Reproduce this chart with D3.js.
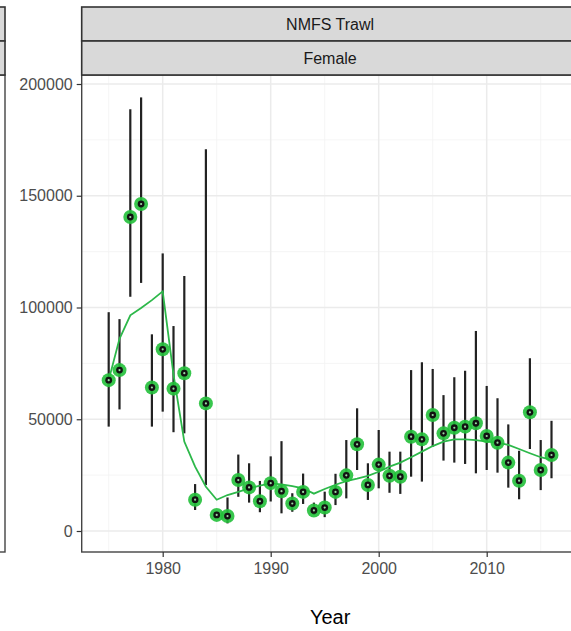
<!DOCTYPE html>
<html>
<head>
<meta charset="utf-8">
<script src="https://cdn.jsdelivr.net/npm/d3@7"></script>
<style>
  body { margin: 0; background: #fff; }
  svg { display: block; font-family: "Liberation Sans", Arial, sans-serif; }
</style>
</head>
<body>
<div id="chart"></div>
<script>
// survey index (female), NMFS trawl
var years = d3.range(1975, 2017);
var obs = [67500, 72000, 140500, 146300, 64200, 81300, 63700, 70600, 14000, 57100,
  7200, 6700, 22800, 19500, 13300, 21400, 17800, 12300, 17500, 9200,
  10500, 17500, 24900, 38800, 20600, 29700, 24700, 24300, 42200, 41000,
  51900, 43700, 46200, 46700, 48200, 42500, 39500, 30600, 22500, 53100,
  27300, 34000];
var lower = [46700, 54400, 104800, 111000, 46700, 53400, 44200, 43700, 9400, 20600,
  5800, 3400, 15300, 12700, 8400, 13200, 7900, 8600, 12100, 7200,
  6200, 11600, 14600, 27300, 13900, 19100, 17100, 16600, 24300, 22100,
  37700, 31500, 30600, 30000, 25800, 27300, 26100, 19400, 14200, 36700,
  18300, 23600];
var upper = [97900, 94800, 188700, 194000, 88000, 124200, 91700, 114100, 21000, 170800,
  8700, 15000, 34200, 30300, 22400, 33400, 40200, 16900, 25700, 12700,
  17600, 25600, 40700, 54900, 30300, 45200, 35500, 35500, 72000, 75500,
  72500, 60800, 68800, 71700, 89500, 64900, 59400, 47700, 35900, 77300,
  40700, 49300];
var fitted = [67500, 86000, 96500, 99800, 103300, 107200, 70000, 40000, 28800, 19800,
  14000, 16100, 17500, 19100, 20300, 21300, 20900, 20100, 19100, 16700,
  18800, 20700, 22300, 23400, 24700, 26500, 28800, 30600, 33000, 35500,
  38000, 40000, 41000, 41000, 40700, 40000, 39500, 38500, 36700, 34800,
  33000, 31800];
var xTicks = [1980, 1990, 2000, 2010];
var yTicks = [0, 50000, 100000, 150000, 200000];
var stripLabels = ["NMFS Trawl", "Female"];

var W = 571, H = 631;
var panel = {left: 81.7, right: 578.5, top: 75, bottom: 552};
var green = "#22C03A";

var svg = d3.select("#chart").append("svg")
    .attr("width", W)
    .attr("height", H);

var x = d3.scaleLinear().domain([1972.5, 2018.5]).range([panel.left, panel.right]);
var y = d3.scaleLinear().domain([0, 200000]).range([531, 84]);

//neighbouring panel cut off on the left
svg.append("rect")
    .attr("x", -100).attr("y", panel.top)
    .attr("width", 105).attr("height", panel.bottom - panel.top)
    .attr("fill", "#fff").attr("stroke", "#444").attr("stroke-width", 1.4);
[7, 41].forEach(function(t) {
  svg.append("rect")
      .attr("x", -100).attr("y", t)
      .attr("width", 105).attr("height", 34)
      .attr("fill", "#D9D9D9").attr("stroke", "#333").attr("stroke-width", 1.6);
});

//grid
var grid = svg.append("g");
var minorX = d3.range(1975, 2020, 10);
var minorY = d3.range(25000, 200000, 50000);
grid.selectAll(".mx").data(minorX).enter().append("line")
    .attr("x1", d => x(d)).attr("x2", d => x(d))
    .attr("y1", panel.top).attr("y2", panel.bottom)
    .attr("stroke", "#F2F2F2").attr("stroke-width", 0.8);
grid.selectAll(".my").data(minorY).enter().append("line")
    .attr("x1", panel.left).attr("x2", panel.right)
    .attr("y1", d => y(d)).attr("y2", d => y(d))
    .attr("stroke", "#F2F2F2").attr("stroke-width", 0.8);
grid.selectAll(".gx").data(xTicks).enter().append("line")
    .attr("x1", d => x(d)).attr("x2", d => x(d))
    .attr("y1", panel.top).attr("y2", panel.bottom)
    .attr("stroke", "#EBEBEB").attr("stroke-width", 1.5);
grid.selectAll(".gy").data(yTicks).enter().append("line")
    .attr("x1", panel.left).attr("x2", panel.right)
    .attr("y1", d => y(d)).attr("y2", d => y(d))
    .attr("stroke", "#EBEBEB").attr("stroke-width", 1.5);

//error bars
svg.append("g").selectAll("line").data(years).enter().append("line")
    .attr("x1", d => x(d)).attr("x2", d => x(d))
    .attr("y1", (d, i) => y(lower[i])).attr("y2", (d, i) => y(upper[i]))
    .attr("stroke", "#222").attr("stroke-width", 2.2);

//fitted line
var line = d3.line()
    .x(d => x(d))
    .y((d, i) => y(fitted[i]));
svg.append("path")
    .datum(years)
    .attr("d", line)
    .attr("fill", "none")
    .attr("stroke", "#2DB84A")
    .attr("stroke-width", 1.8);

//observed points
var pts = svg.append("g").selectAll("g").data(years).enter().append("g")
    .attr("transform", (d, i) => "translate(" + x(d) + "," + y(obs[i]) + ")");
pts.append("circle").attr("r", 7).attr("fill", green).attr("opacity", 0.9);
pts.append("circle").attr("r", 3.4).attr("fill", "#111");
pts.append("circle").attr("r", 1.1).attr("fill", "#9ad8a4");

//panel border (left + bottom visible)
svg.append("rect")
    .attr("x", panel.left).attr("y", panel.top)
    .attr("width", panel.right - panel.left).attr("height", panel.bottom - panel.top)
    .attr("fill", "none").attr("stroke", "#444").attr("stroke-width", 1.4);

//strips
stripLabels.forEach(function(lab, i) {
  var top = 7 + i * 34;
  svg.append("rect")
      .attr("x", panel.left).attr("y", top)
      .attr("width", panel.right - panel.left).attr("height", 34)
      .attr("fill", "#D9D9D9").attr("stroke", "#333").attr("stroke-width", 1.6);
  svg.append("text")
      .attr("x", (panel.left + panel.right) / 2)
      .attr("y", top + 17)
      .attr("dy", "0.36em")
      .attr("text-anchor", "middle")
      .style("font-size", "16px")
      .style("fill", "#1A1A1A")
      .text(lab);
});

//axes
var yAxis = svg.append("g")
    .attr("transform", "translate(" + panel.left + ",0)")
    .call(d3.axisLeft(y).tickValues(yTicks).tickFormat(d3.format("d")).tickSize(5).tickPadding(4));
var xAxis = svg.append("g")
    .attr("transform", "translate(0," + panel.bottom + ")")
    .call(d3.axisBottom(x).tickValues(xTicks).tickFormat(d3.format("d")).tickSize(5).tickPadding(6));
[xAxis, yAxis].forEach(function(ax) {
  ax.select(".domain").remove();
  ax.selectAll(".tick line").attr("stroke", "#333").attr("stroke-width", 1.2);
  ax.selectAll(".tick text")
      .style("font-size", "16px")
      .style("font-family", "'Liberation Sans', Arial, sans-serif")
      .attr("fill", "#4D4D4D");
});

svg.append("text")
    .attr("x", (panel.left + panel.right) / 2)
    .attr("y", 624)
    .attr("text-anchor", "middle")
    .style("font-size", "20px")
    .style("fill", "#000")
    .text("Year");
</script>
</body>
</html>
